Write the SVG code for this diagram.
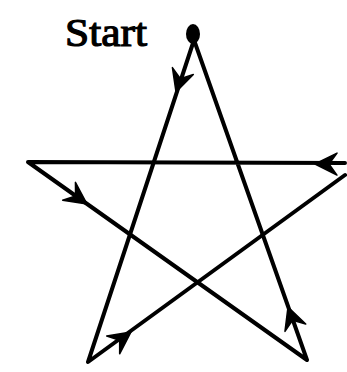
<svg xmlns="http://www.w3.org/2000/svg" width="347" height="372" viewBox="0 0 347 372">
<style>
.ln{stroke:#000;stroke-width:4;fill:none;stroke-linecap:round;stroke-linejoin:round}
.ah{fill:#000;stroke:#000;stroke-width:1.5;stroke-linejoin:round}
.lbl{font-family:"Liberation Serif","Times New Roman",serif;font-size:40px;fill:#000;stroke:#000;stroke-width:1.2}
</style>
<defs>
<path id="arrow" d="M0,0 L-22,-11 L-14,0 L-22,11 Z"/>
</defs>
<rect width="347" height="372" fill="#fff"/>
<g id="connectors">
<path class="ln" d="M194,40 L88,362 L345,175"/>
<path class="ln" d="M345,163 L28,162 L307,360 L194,40"/>
<use href="#arrow" class="ah" transform="translate(176,92) rotate(108.2)"/>
<use href="#arrow" class="ah" transform="translate(87,204) rotate(35.4)"/>
<use href="#arrow" class="ah" transform="translate(315,164) rotate(180.2)"/>
<use href="#arrow" class="ah" transform="translate(131,332) rotate(-36)"/>
<use href="#arrow" class="ah" transform="translate(288,307) rotate(-109.5)"/>
</g>
<g id="start">
<ellipse cx="193" cy="34" rx="7" ry="10" fill="#000"/>
<text class="lbl" x="65" y="46" textLength="82" lengthAdjust="spacingAndGlyphs">Start</text>
</g>
</svg>
